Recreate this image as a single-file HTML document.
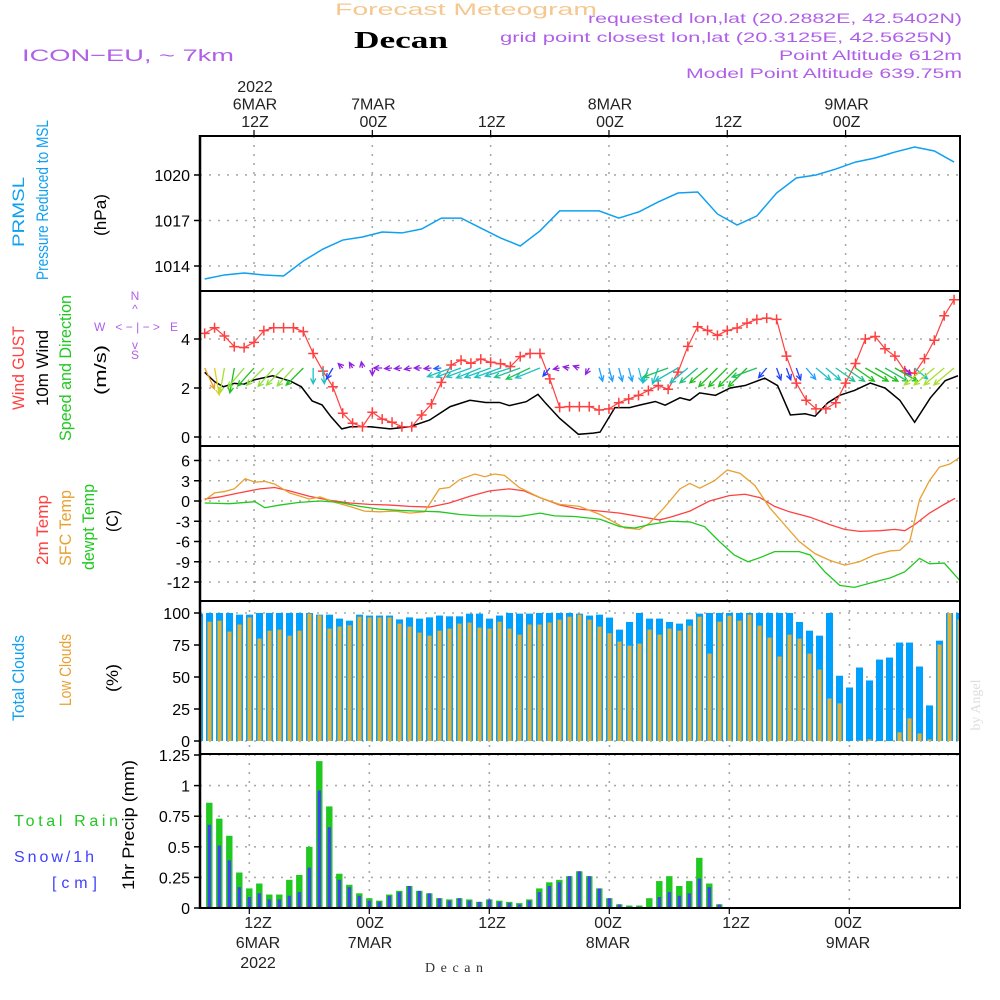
<!DOCTYPE html>
<html><head><meta charset="utf-8"><style>
html,body{margin:0;padding:0;background:#fff;}
svg{display:block;font-family:"Liberation Sans",sans-serif;}
</style></head><body>
<svg id="chart" width="1000" height="1000" viewBox="0 0 1000 1000" xmlns="http://www.w3.org/2000/svg">
<rect x="0" y="0" width="1000" height="1000" fill="#fff"/>
<text x="466" y="15" text-anchor="middle" font-size="17" fill="#f4c890" textLength="262" lengthAdjust="spacingAndGlyphs">Forecast Meteogram</text>
<text x="401" y="48" text-anchor="middle" font-size="24" font-weight="bold" font-family="Liberation Serif,serif" fill="#000" textLength="94" lengthAdjust="spacingAndGlyphs">Decan</text>
<text x="22" y="61" font-size="17" fill="#b060e8" textLength="212" lengthAdjust="spacingAndGlyphs">ICON−EU, ~ 7km</text>
<g fill="#b060e8" font-size="14" text-anchor="end">
<text x="962" y="23" textLength="374" lengthAdjust="spacingAndGlyphs">requested lon,lat (20.2882E, 42.5402N)</text>
<text x="952" y="42" textLength="452" lengthAdjust="spacingAndGlyphs">grid point closest lon,lat (20.3125E, 42.5625N)</text>
<text x="962" y="60" textLength="183" lengthAdjust="spacingAndGlyphs">Point Altitude 612m</text>
<text x="962" y="78" textLength="276" lengthAdjust="spacingAndGlyphs">Model Point Altitude 639.75m</text>
</g>
<g id="grid"></g>
<g id="marks"></g>
<g id="frames"></g>
<g id="labels"></g>
</svg>
<script>
// ---------- DATA ----------
const topTimeLabels = [["2022","6MAR","12Z"],["","7MAR","00Z"],["","","12Z"],["","8MAR","00Z"],["","","12Z"],["","9MAR","00Z"]];
const topTimeHours = [12,24,36,48,60,72];
const bottomTimeLabels = [["12Z","6MAR","2022"],["00Z","7MAR",""],["12Z","",""],["00Z","8MAR",""],["12Z","",""],["00Z","9MAR",""]];

const presHours = [7,9,11,13,15,17,19,21,23,25,27,29,31,33,35,37,39,41,43,45,47,49,51,53,55,57,59,61,63,65,67,69,71,73,75,77,79,81,83];
const presVals = [1013.14,1013.41,1013.54,1013.41,1013.34,1014.33,1015.12,1015.71,1015.91,1016.24,1016.18,1016.44,1017.16,1017.16,1016.5,1015.85,1015.32,1016.31,1017.63,1017.63,1017.63,1017.16,1017.56,1018.22,1018.81,1018.88,1017.43,1016.7,1017.3,1018.81,1019.8,1020.0,1020.39,1020.85,1021.12,1021.51,1021.84,1021.58,1020.85];
const presTicks = [1014,1017,1020];

const gustStartHour = 7;
const gustVals = [4.23,4.46,4.12,3.69,3.65,3.86,4.34,4.46,4.46,4.46,4.30,3.41,2.69,2.05,0.97,0.56,0.42,1.01,0.73,0.60,0.42,0.42,0.90,1.35,2.23,2.94,3.14,3.01,3.18,3.05,2.99,2.87,3.28,3.41,3.41,2.37,1.21,1.24,1.24,1.24,
 1.1,1.15,1.4,1.55,1.7,1.9,2.1,1.95,2.65,3.7,4.5,4.35,4.15,4.35,4.45,4.65,4.8,4.85,4.8,3.3,2.2,1.5,1.15,1.15,1.4,2.2,3.0,4.0,4.1,3.6,3.3,2.7,2.6,3.2,3.95,4.95,5.6];
const windHours = [7,8,8.9,10,11,12,13.9,15.7,16.8,17.9,18.9,19.8,20.9,21.8,23.8,25.8,27.8,29.8,31.9,33.9,35.5,36.9,37.9,39.6,40.8,41.6,43,44.9,46.4,47.1,48.6,50.1,51.1,52.7,53.7,55.2,56.2,57.2,58.8,60.3,61.8,63.8,65.1,66.4,67.9,68.9,70.2,71.4,72.9,74.5,76,77.5,79,80.6,82.1,83.4];
const windVals = [2.64,2.26,2.05,2.19,2.16,2.33,2.50,2.28,2.05,1.47,1.31,0.83,0.33,0.42,0.42,0.33,0.42,0.69,1.24,1.50,1.41,1.41,1.28,1.44,1.74,1.37,0.76,0.11,0.16,0.2,1.2,1.2,1.3,1.45,1.3,1.6,1.5,1.8,1.7,2.0,2.1,2.4,2.1,0.9,0.95,0.85,1.4,1.7,1.9,2.2,2.0,1.5,0.6,1.6,2.3,2.5];
const windTicks = [0,2,4];
const arrowStartHour = 7;
const arrowFromDir = [335,350,10,10,40,42,45,40,45,42,45,0,355,30,135,150,170,0,90,85,85,80,90,85,85,70,70,70,68,70,70,72,70,65,68,40,80,100,110,30,
 345,345,345,345,345,20,20,70,60,50,50,50,45,45,45,45,70,40,340,340,340,320,310,310,305,305,305,300,300,300,300,320,310,50,50,50,50];
const arrowSpd = [2.2,2.6,2.4,2.4,2.4,2.3,2.3,2.3,2.3,2.3,2.3,1.5,1.5,1.2,0.6,0.6,0.6,0.7,0.8,0.7,0.7,0.7,0.7,0.7,0.7,2.4,2.5,2.5,2.5,2.6,2.6,2.5,2.6,2.5,2.5,1.0,0.6,0.6,0.6,0.7,
 1.3,1.3,1.3,1.3,1.4,1.5,1.6,2.5,2.5,2.2,2.2,2.2,2.5,2.5,2.5,2.5,2.5,1.2,1.2,1.2,1.2,1.4,1.8,1.8,2.2,2.2,2.2,2.5,2.5,2.5,2.5,0.9,1.6,2.5,2.5,2.5,2.5];
const arrowColor = ["#e8a020","#e0d020","#a8e030","#20c020","#90e040","#20c020","#90e040","#90e040","#90e040","#90e040","#20c020","#20c0c0","#20c0c0","#2040ff","#9020e0","#9020e0","#9020e0","#9020e0","#9020e0","#9020e0","#9020e0","#9020e0","#9020e0","#9020e0","#2060ff","#20c0c0","#20c0c0","#20c0c0","#20c0c0","#20c0c0","#20c0c0","#20c0c0","#20c090","#20c060","#20c0c0","#2040ff","#9020e0","#9020e0","#9020e0","#9020e0",
 "#20a0ff","#20a0ff","#20a0ff","#20a0ff","#20c0e0","#20c0c0","#20c0c0","#20c060","#20c0c0","#20c0c0","#20c080","#20c020","#20c020","#20c020","#20c020","#20c020","#20c060","#2040ff","#2040ff","#2040ff","#2040ff","#20a0ff","#20c0c0","#20c0c0","#20c0a0","#20c080","#20c020","#20c020","#20c020","#20c060","#20c020","#9020e0","#20c0c0","#a8e030","#a8e030","#a8e030","#a8e030"];

const t2Hours = [7,8.5,10.5,12.6,14.1,15.6,17.6,19.7,21.7,23.7,25.8,27.8,29.8,31.8,33.9,35.9,37.9,39.4,41,43,45,47.1,49.1,51.1,53.1,54.2,56.2,58.2,60.2,61.8,63.3,64.8,66.3,68.4,70.4,71.9,73.4,75.5,77,78,79,80.5,82,83.1];
const t2Vals = [0.3,0.6,1.2,1.8,2.0,1.5,0.7,0.1,-0.3,-0.5,-0.6,-0.8,-0.9,-0.3,0.7,1.5,1.8,1.5,0.5,-0.6,-1.2,-1.5,-1.8,-2.3,-2.8,-2.4,-1.5,0,0.8,1.0,0.5,-0.8,-1.6,-2.4,-3.5,-4.2,-4.5,-4.4,-4.2,-4.4,-3.5,-1.8,-0.5,0.4];
const sfcHours = [7,8,9,10,11.1,12.1,13.1,14.1,15.6,17.6,18.7,20.2,21.7,23.2,24.7,26.3,27.8,29.3,30.8,31.8,32.9,34.4,35.4,36.4,37.4,38.9,41,43,45,47.1,48.6,49.6,51.1,52.1,53.6,55.2,56.2,57.2,58.7,60,61.3,62.8,64.3,65.8,67.3,68.9,70.4,71.9,73.4,74.9,76.5,77.5,78.5,79.5,80.5,81.5,82.6,83.6];
const sfcVals = [0.1,1.2,1.4,1.8,3.3,2.8,2.9,2.5,1.2,0.3,0.6,-0.2,-0.8,-1.5,-1.6,-1.5,-1.8,-1.6,1.8,2.0,3.2,4.0,3.6,4.0,3.8,2.0,0.5,-0.5,-0.8,-2.0,-3.2,-4.0,-4.2,-3.3,-1.0,1.8,2.6,1.9,3.0,4.6,4.1,2.3,-1.0,-3.5,-6.0,-7.8,-8.8,-9.5,-9.0,-8.0,-7.4,-7.3,-6.0,0.2,3.0,5.0,5.5,6.5];
const dewHours = [7,9.5,12.1,13.1,14.6,16.6,18.7,20.7,22.7,24.7,26.8,28.8,30.8,32.9,34.9,36.9,38.9,41,42.5,44.5,47.1,49.1,50.6,52.1,54.2,56.2,57.7,59.2,60.7,62.1,63.3,64.8,67.3,68.4,69.9,71.4,72.9,74.9,76.5,78,79.5,80.5,82,83.6];
const dewVals = [-0.3,-0.4,-0.1,-1.0,-0.6,-0.2,0,-0.2,-0.8,-1.2,-1.4,-1.5,-1.6,-2.0,-2.2,-2.2,-2.3,-1.8,-2.2,-2.3,-2.7,-3.8,-4.0,-3.5,-3.0,-3.1,-3.8,-6.0,-8.0,-9.0,-8.4,-7.5,-7.5,-8.0,-10.5,-12.5,-12.8,-12.0,-11.4,-10.5,-8.5,-9.3,-9.2,-11.8];
const tempTicks = [6,3,0,-3,-6,-9,-12];

const cloudStartHour = 7;
const totalCloud = [99.5,100,100,100,98.7,98.7,100,100,100,100,100,100,98.7,98.7,95.6,94,98.7,98,98,98,95,96.6,95.6,96.6,98,97.4,97.4,99.5,99.5,95.6,98,100,99.5,99.5,100,100,100,100,99.5,98,
 98.7,96.4,87,93,100,95.6,95.6,93,91.7,95,99.5,100,100,100,100,100,100,100,100,100,93,86.2,82.3,100,51,41.8,57.4,47.3,63.6,65.2,76.9,76.9,58.2,27.8,78.4,100,100];
const lowCloud = [97,93.2,94,85.5,91,96.6,80,86.2,87,82.3,86.2,99.5,98.2,87.8,89.4,90.4,97.1,96.6,96.6,96.6,91.7,89.4,84.7,82.3,86.2,87.8,91.7,92.5,88.6,87.8,93.2,87.8,83.1,91,91,92.5,94.8,97.1,98.7,94.8,
 89.4,84.2,77.7,74.5,76.1,87,83.1,87.8,86.2,90.1,97.1,68.3,93.2,97.9,94,98.7,90.1,80.8,66,83.1,80,68.3,55.8,33.2,29.4,0,0.5,1.3,0,0,6.8,17.7,5.9,1.3,75.3,100,95];
const cloudTicks = [0,25,50,75,100];

const precipStartHour = 8;
const rainTotal = [0.86,0.73,0.59,0.29,0.16,0.2,0.11,0.11,0.23,0.27,0.5,1.2,0.83,0.28,0.19,0.12,0.08,0.06,0.11,0.14,0.18,0.14,0.12,0.08,0.07,0.08,0.07,0.05,0.07,0.06,0.05,0.04,0.07,0.16,0.21,0.23,0.26,0.3,0.26,0.16,0.08,0.03,0.02,0.02,0.08,0.22,0.26,0.18,0.22,0.41,0.2,0.03];
const snowVals = [0.68,0.51,0.39,0.17,0.09,0.12,0.07,0.07,0.1,0.13,0.33,0.96,0.66,0.23,0.17,0.1,0.06,0.05,0.1,0.13,0.18,0.14,0.12,0.08,0.06,0.08,0.06,0.05,0.07,0.05,0.04,0.03,0.06,0.13,0.18,0.21,0.26,0.3,0.26,0.16,0.08,0.03,0.01,0.01,0.01,0.09,0.13,0.1,0.12,0.24,0.17,0.03];
const precipTicks = [0,0.25,0.5,0.75,1,1.25];
const precipTickLabels = ["0","0.25","0.5","0.75","1","1.25"];

// ---------- SCALES ----------
const X0 = 200, X1 = 960;
const xT = h => 254 + (h - 12) * 9.86;         // panels 1-3
const xC = h => 209.5 + (h - 8) * 10;          // clouds
const xP = h => 209.3 + (h - 8) * 10;          // precip
const yPres = p => 266 - (p - 1014) * 15.17;
const yWind = v => 437 - v * 24.5;
const yTemp = t => 501 - t * 6.75;
const yCloud = c => 741 - c * 1.28;
const yPrec = r => 908 - r * 122.4;
const panels = [[136,291],[291,446],[446,601],[601,754],[754,908]];

const NS = "http://www.w3.org/2000/svg";
function mk(tag, attrs, parent){ const e=document.createElementNS(NS,tag); for(const k in attrs) e.setAttribute(k,attrs[k]); parent.appendChild(e); return e; }
const G = document.getElementById('grid'), M = document.getElementById('marks'), F = document.getElementById('frames'), L = document.getElementById('labels');

const defs = mk('defs',{},document.getElementById('chart'));
const cp = mk('clipPath',{id:'plotclip'},defs);
mk('rect',{x:X0,y:136,width:X1-X0,height:772},cp);
M.setAttribute('clip-path','url(#plotclip)');

const gridStyle = {stroke:'#aaa','stroke-width':1.6,'stroke-dasharray':'2,7'};
function hgrid(y, name){ const l=mk('line',Object.assign({x1:X0,x2:X1,y1:y,y2:y},gridStyle),G);
 
  }
function vgrid(x, y0, y1, name){ const l=mk('line',Object.assign({x1:x,x2:x,y1:y0,y2:y1},gridStyle),G);
 
  }
function ytick(y, txt, name){
 mk('line',{x1:194,x2:201,y1:y,y2:y,stroke:'#000','stroke-width':1.5},F);
 const t=mk('text',{x:190,y:y+6,'text-anchor':'end','font-size':16,fill:'#000'},L); t.textContent=txt;
 
 
}
for(const h of topTimeHours){ for(let p=0;p<3;p++) vgrid(xT(h),panels[p][0],panels[p][1],'time-gridline'); vgrid(xC(h),601,754,'time-gridline'); vgrid(xP(h),754,908,'time-gridline'); }

// pressure
presTicks.forEach(p=>{ hgrid(yPres(p),'pressure-gridline'); ytick(yPres(p),String(p),'pressure-tick-label'); });
const presLine = mk('polyline',{points:presHours.map((h,i)=>xT(h)+','+yPres(presVals[i])).join(' '),fill:'none',stroke:'#10a0f0','stroke-width':1.5},M);



// wind
windTicks.forEach(v=>{ hgrid(yWind(v),'wind-gridline'); ytick(yWind(v),String(v),'wind-tick-label'); });
const wl = mk('polyline',{points:windHours.map((h,i)=>xT(h)+','+yWind(windVals[i])).join(' '),fill:'none',stroke:'#000','stroke-width':1.5},M);


const gl = mk('polyline',{points:gustVals.map((v,i)=>xT(gustStartHour+i)+','+yWind(v)).join(' '),fill:'none',stroke:'#ff4040','stroke-width':1.2},M);


gustVals.forEach((v,i)=>{ const x=xT(gustStartHour+i), y=yWind(v);
 const p=mk('path',{d:`M${x-5},${y}h10M${x},${y-5}v10`,stroke:'#ff4040','stroke-width':1.5},M);
 
  });
arrowFromDir.forEach((d,i)=>{ const x=xT(arrowStartHour+i), y=368; const to=(d+180)*Math.PI/180; const len=arrowSpd[i]*10.5;
 const dx=Math.sin(to)*len, dy=-Math.cos(to)*len; const hx=x+dx, hy=y+dy; const a=Math.atan2(dy,dx);
 const h1x=hx-6*Math.cos(a-0.45), h1y=hy-6*Math.sin(a-0.45), h2x=hx-6*Math.cos(a+0.45), h2y=hy-6*Math.sin(a+0.45);
 const p=mk('path',{d:`M${x},${y}L${hx},${hy}M${h1x},${h1y}L${hx},${hy}L${h2x},${h2y}`,stroke:arrowColor[i],'stroke-width':1.3,fill:'none'},M);
 
  });

// temperature
tempTicks.forEach(t=>{ hgrid(yTemp(t),'temp-gridline'); ytick(yTemp(t),String(t),'temp-tick-label'); });
[[t2Hours,t2Vals,'#ff4040','temp-2m-line'],[sfcHours,sfcVals,'#e8a030','temp-sfc-line'],[dewHours,dewVals,'#20c820','dewpoint-line']].forEach(s=>{
 const pl=mk('polyline',{points:s[0].map((h,i)=>xT(h)+','+yTemp(s[1][i])).join(' '),fill:'none',stroke:s[2],'stroke-width':1.3},M);
 
  });

// clouds
cloudTicks.forEach(c=>{ hgrid(yCloud(c),'cloud-gridline'); ytick(yCloud(c),String(c),'cloud-tick-label'); });
totalCloud.forEach((c,i)=>{ const x=xC(cloudStartHour+i);
 const r=mk('rect',{x:x-3.5,y:yCloud(c),width:7,height:yCloud(0)-yCloud(c),fill:'#00a0ff'},M);
 
 
 const lc=lowCloud[i]; const r2=mk('rect',{x:x-2,y:yCloud(lc),width:4,height:yCloud(0)-yCloud(lc),fill:'#e8b030'},M);
 
  });

// precip
precipTicks.forEach((r,i)=>{ hgrid(yPrec(r),'precip-gridline'); ytick(yPrec(r),precipTickLabels[i],'precip-tick-label'); });
rainTotal.forEach((r,i)=>{ const x=xP(precipStartHour+i);
 const b=mk('rect',{x:x-3.2,y:yPrec(r),width:6.4,height:yPrec(0)-yPrec(r),fill:'#20c820'},M);
 
 
 const s=snowVals[i]; const b2=mk('rect',{x:x-1.6,y:yPrec(s),width:3.2,height:yPrec(0)-yPrec(s),fill:'#4040ff'},M);
 
  });

// frames
panels.forEach(p=>{ mk('line',{x1:X0,x2:X1,y1:p[0],y2:p[0],stroke:'#000','stroke-width':2},F); });
mk('line',{x1:X0,x2:X1,y1:908,y2:908,stroke:'#000','stroke-width':2},F);
mk('line',{x1:X0,x2:X0,y1:135,y2:909,stroke:'#000','stroke-width':2.5},F);
mk('line',{x1:X1,x2:X1,y1:135,y2:909,stroke:'#000','stroke-width':2},F);

// time labels
topTimeHours.forEach((h,i)=>{ const x=xT(h);
 mk('line',{x1:x,x2:x,y1:130,y2:136,stroke:'#000','stroke-width':1.2},F);
 topTimeLabels[i].forEach((s,j)=>{ if(!s) return; const t=mk('text',{x:x+1,y:92+j*17.5,'text-anchor':'middle','font-size':16,fill:'#222'},L); t.textContent=s;
  
   }); });
const botX=[258,370,492,608,736,848];
bottomTimeLabels.forEach((arr,i)=>{ const x=botX[i];
 mk('line',{x1:xP(12+12*i),x2:xP(12+12*i),y1:908,y2:914,stroke:'#000','stroke-width':1.2},F);
 arr.forEach((s,j)=>{ if(!s) return; const t=mk('text',{x:x,y:928+j*20,'text-anchor':'middle','font-size':16,fill:'#222'},L); t.textContent=s;
  
   }); });

const rot = [["PRMSL",18,212,'#10a0f0',70],["Pressure Reduced to MSL",42,200,'#10a0f0',160],["(hPa)",100,215,'#000',42],
 ["Wind GUST",18,368,'#ff4040',84],["10m Wind",42,368,'#000',76],["Speed and Direction",65,368,'#20c820',146],["(m/s)",100,370,'#000',50],
 ["2m Temp",42,530,'#ff4040',70],["SFC Temp",65,528,'#e8a030',76],["dewpt Temp",88,527,'#20c820',86],["(C)",112,521,'#000',22],
 ["Total Clouds",18,678,'#10a0f0',86],["Low Clouds",65,670,'#e8a030',72],["(%)",112,678,'#000',28],
 ["1hr Precip (mm)",128,825,'#000',130]];
rot.forEach(r=>{ const t=mk('text',{x:r[1],y:r[2],'text-anchor':'middle','font-size':17,fill:r[3],transform:`rotate(-90 ${r[1]} ${r[2]}) translate(0 6)`,textLength:r[4],lengthAdjust:'spacingAndGlyphs'},L); t.textContent=r[0];
 
  });
</script>
<svg style="position:absolute;left:0;top:0" width="1000" height="1000">
<g fill="#b060e8" font-size="12" font-family="Liberation Sans,sans-serif" text-anchor="middle">
<text x="135" y="300">N</text>
<text x="136" y="331" textLength="84" lengthAdjust="spacing">W &lt;−|−&gt; E</text>
<text x="135" y="359">S</text>
<text x="135" y="313">^</text>
<text x="135" y="349">v</text>
</g>
<text x="14" y="826" font-size="16" fill="#20c820" font-family="Liberation Sans,sans-serif" textLength="104" lengthAdjust="spacing">Total  Rain</text>
<text x="14" y="862" font-size="16" fill="#4040ff" font-family="Liberation Sans,sans-serif" textLength="80" lengthAdjust="spacing">Snow/1h</text>
<text x="52" y="888" font-size="16" fill="#4040ff" font-family="Liberation Sans,sans-serif" textLength="45" lengthAdjust="spacing">[cm]</text>
<text x="454" y="972" text-anchor="middle" font-size="14" fill="#333" font-family="Liberation Serif,serif" textLength="58" lengthAdjust="spacing">Decan</text>
<text x="980" y="705" text-anchor="middle" font-size="14" fill="#ddd" font-family="Liberation Serif,serif" transform="rotate(-90 980 705)">by Angel</text>
</svg>
</body></html>
